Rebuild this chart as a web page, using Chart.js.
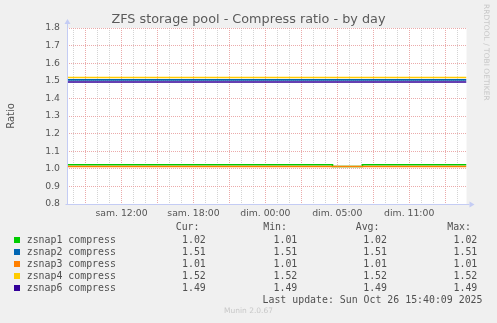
<!DOCTYPE html>
<html>
<head>
<meta charset="utf-8">
<script src="https://cdn.jsdelivr.net/npm/chart.js@4"></script>
<style>
    html, body { margin: 0; padding: 0; background: #F0F0F0; }
    #wrap { position: relative; width: 497px; height: 323px; overflow: hidden; }
    #chart { position: absolute; left: 0; top: 0; }
    #title { position: absolute; left: 0; width: 497px; top: 11px; text-align: center;
             font-family: 'DejaVu Sans', sans-serif; font-size: 12.8px; line-height: 16px; color: #5A5A5A; }
    .txt { position: absolute; font-family: 'DejaVu Sans Mono', monospace; font-size: 9.9px; line-height: 12px; color: #505050; white-space: pre; }
    .num { text-align: right; }
    .sw { position: absolute; width: 6px; height: 6px; }
    #rrd { position: absolute; left: 491px; top: 4px; transform-origin: 0 0; transform: rotate(90deg);
           font-family: 'DejaVu Sans', sans-serif; font-size: 7.5px; color: #C8C8C8; white-space: nowrap; }
    #munin { position: absolute; left: 0; width: 497px; top: 306px; text-align: center;
             font-family: 'DejaVu Sans', sans-serif; font-size: 7.5px; color: #C8C8C8; }
</style>
</head>
<body>
<div id="wrap">
    <canvas id="chart" width="497" height="323"></canvas>
    <div id="title">ZFS storage pool - Compress ratio - by day</div>
    <div id="rrd">RRDTOOL / TOBI OETIKER</div>
    <div id="munin">Munin 2.0.67</div>
</div>
<script>
// series, x in elapsed hours from the left edge of the graph
const seriesNames = ['zsnap1 compress', 'zsnap2 compress', 'zsnap3 compress', 'zsnap4 compress', 'zsnap6 compress'];
const seriesColors = ['#00CC00', '#0066B3', '#FF8000', '#FFCC00', '#330099'];
const zsnap1X = [0, 22.15, 24.65, 33.33];
const zsnap1Y = [1.023, 1.013, 1.023, 1.023];
const flatX = [0, 33.33];
const zsnap2Y = [1.505, 1.505];
const zsnap3Y = [1.013, 1.013];
const zsnap4Y = [1.519, 1.519];
const zsnap6Y = [1.493, 1.493];

// legend figures
const curVals = ['1.02', '1.51', '1.01', '1.52', '1.49'];
const minVals = ['1.01', '1.51', '1.01', '1.52', '1.49'];
const avgVals = ['1.02', '1.51', '1.01', '1.52', '1.49'];
const maxVals = ['1.02', '1.51', '1.01', '1.52', '1.49'];

// x axis
const tickLabels = ['sam. 12:00', 'sam. 18:00', 'dim. 00:00', 'dim. 05:00', 'dim. 11:00'];
const tickHours = [4.55, 10.55, 16.55, 22.55, 28.55];
const xMax = 33.33;

const gridHours = [];
for (let h = 0.55; h < xMax; h += 1) gridHours.push(+h.toFixed(2));

function pts(xs, ys) {
    return xs.map((x, i) => ({ x: x, y: ys[i] }));
}

const seriesY = [zsnap1Y, zsnap2Y, zsnap3Y, zsnap4Y, zsnap6Y];
const datasets = seriesNames.map((name, i) => ({
    label: name,
    data: i === 0 ? pts(zsnap1X, zsnap1Y) : pts(flatX, seriesY[i]),
    borderColor: seriesColors[i],
    borderWidth: 1.6,
    pointRadius: 0,
    stepped: true,
    fill: false,
    order: seriesNames.length - i   // later series drawn on top, like rrdtool
}));

const MAJOR = 'rgba(230, 150, 150, 0.8)';
const MINOR = 'rgba(205, 205, 205, 0.85)';
const AXIS = '#C4CCF4';

const frame = {
    id: 'frame',
    beforeDraw(chart) {
        const { ctx, chartArea: a } = chart;
        ctx.save();
        ctx.fillStyle = '#FFFFFF';
        ctx.fillRect(a.left, a.top, a.right - a.left, a.bottom - a.top);
        ctx.restore();
    },
    afterDraw(chart) {
        const { ctx, chartArea: a } = chart;
        const x0 = Math.round(a.left) + 0.5, y0 = Math.round(a.bottom) + 0.5;
        ctx.save();
        ctx.strokeStyle = AXIS;
        ctx.fillStyle = AXIS;
        ctx.lineWidth = 1;
        ctx.beginPath();
        ctx.moveTo(x0, y0); ctx.lineTo(x0, a.top - 5);
        ctx.moveTo(x0 - 2, y0); ctx.lineTo(a.right + 3, y0);
        ctx.stroke();
        ctx.beginPath();
        ctx.moveTo(x0 - 3, a.top - 4); ctx.lineTo(x0 + 3, a.top - 4); ctx.lineTo(x0, a.top - 9); ctx.closePath();
        ctx.fill();
        ctx.beginPath();
        ctx.moveTo(a.right + 3, y0 - 3); ctx.lineTo(a.right + 3, y0 + 3); ctx.lineTo(a.right + 8, y0); ctx.closePath();
        ctx.fill();
        ctx.restore();
    }
};

new Chart(document.getElementById('chart'), {
    type: 'line',
    data: { datasets: datasets },
    plugins: [frame],
    options: {
        responsive: false,
        animation: false,
        layout: { padding: { left: 0, right: 30.5, top: 28, bottom: 99 } },
        plugins: {
            legend: { display: false },
            tooltip: { enabled: false },
            title: { display: false }
        },
        scales: {
            x: {
                type: 'linear',
                min: 0,
                max: xMax,
                afterBuildTicks: scale => { scale.ticks = gridHours.map(v => ({ value: v })); },
                afterFit: scale => { scale.height = 20; },
                grid: {
                    drawTicks: false,
                    color: c => {
                        const i = gridHours.indexOf(c.tick ? c.tick.value : -1);
                        return (i % 3 === 1) ? MAJOR : MINOR;
                    }
                },
                border: { display: false, dash: [1, 1] },
                ticks: {
                    autoSkip: false,
                    maxRotation: 0,
                    padding: 4,
                    color: '#555555',
                    font: { family: 'DejaVu Sans', size: 9.3 },
                    callback: value => {
                        const k = tickHours.findIndex(h => Math.abs(h - value) < 0.01);
                        return k >= 0 ? tickLabels[k] : '';
                    }
                }
            },
            y: {
                min: 0.8,
                max: 1.8,
                afterFit: scale => { scale.width = 67; },
                grid: { drawTicks: false, color: MAJOR },
                border: { display: false, dash: [1, 1] },
                title: {
                    display: true,
                    text: 'Ratio',
                    color: '#555555',
                    font: { family: 'DejaVu Sans', size: 10 },
                    padding: { top: 5, bottom: 0 }
                },
                ticks: {
                    stepSize: 0.1,
                    padding: 7,
                    color: '#555555',
                    font: { family: 'DejaVu Sans', size: 9.3 },
                    callback: v => v.toFixed(1)
                }
            }
        }
    }
});

// legend table under the graph
const wrap = document.getElementById('wrap');
function addText(text, x, yMid, right) {
    const d = document.createElement('div');
    d.className = 'txt' + (right ? ' num' : '');
    d.textContent = text;
    d.style.top = (yMid - 6) + 'px';
    if (right) { d.style.right = (497 - x) + 'px'; } else { d.style.left = x + 'px'; }
    wrap.appendChild(d);
}
const rowY = [240, 252, 264, 276, 288];
addText('Cur:', 199.5, 226.7, true);
addText('Min:', 287, 226.7, true);
addText('Avg:', 379.5, 226.7, true);
addText('Max:', 471, 226.7, true);
seriesNames.forEach((name, i) => {
    const sw = document.createElement('div');
    sw.className = 'sw';
    sw.style.left = '14px';
    sw.style.top = (rowY[i] - 3) + 'px';
    sw.style.background = seriesColors[i];
    wrap.appendChild(sw);
    addText(name, 26.7, rowY[i], false);
    addText(curVals[i], 205.8, rowY[i], true);
    addText(minVals[i], 297.3, rowY[i], true);
    addText(avgVals[i], 387, rowY[i], true);
    addText(maxVals[i], 477.3, rowY[i], true);
});
addText('Last update: Sun Oct 26 15:40:09 2025', 482.5, 300, true);
</script>
</body>
</html>
